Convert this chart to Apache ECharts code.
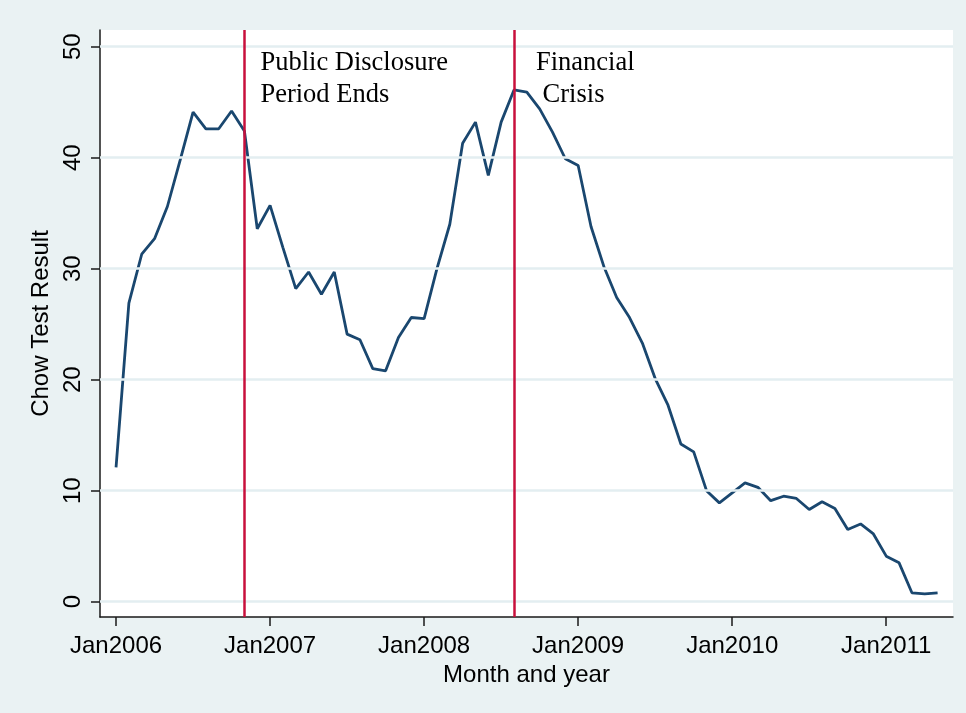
<!DOCTYPE html>
<html><head><meta charset="utf-8">
<script src="https://cdn.jsdelivr.net/npm/echarts@6/dist/echarts.min.js"></script>
<style>html,body{margin:0;padding:0;background:#fff}#c{width:966px;height:713px}</style>
</head><body><div id="c"></div>
<script>
// Monthly Chow test results, Jan2006 .. May2011 (month index 0 = Jan2006)
const startYear = 2006;
const chowValues = [12.1,26.9,31.3,32.7,35.6,39.8,44.1,42.6,42.6,44.2,42.4,33.6,
  35.7,31.9,28.2,29.7,27.7,29.7,24.1,23.6,21.0,20.8,23.8,25.6,
  25.5,30.0,34.0,41.3,43.2,38.4,43.2,46.1,45.9,44.4,42.3,39.9,
  39.3,33.8,30.2,27.4,25.6,23.3,20.1,17.7,14.2,13.5,10.0,8.9,
  9.8,10.7,10.3,9.1,9.5,9.3,8.3,9.0,8.4,6.5,7.0,6.1,
  4.1,3.5,0.8,0.7,0.8];
const xTickMonths = [0,12,24,36,48,60];
const xTickLabels = ['Jan2006','Jan2007','Jan2008','Jan2009','Jan2010','Jan2011'];
const yTicks = [0,10,20,30,40,50];
const eventMonths = [10,31];
const eventLabels = ['Public Disclosure\nPeriod Ends', 'Financial\n Crisis'];

const seriesData = chowValues.map((v,i)=>[i,v]);
const sans = '"Liberation Sans", Arial, Helvetica, sans-serif';
const serif = '"Liberation Serif", "Times New Roman", serif';

const chart = echarts.init(document.getElementById('c'), null, {renderer:'canvas'});
const option = {
  animation:false,
  backgroundColor:'#EAF2F3',
  grid:{left:100, top:30, right:13, bottom:96, show:true, backgroundColor:'#ffffff', borderWidth:0},
  xAxis:{
    type:'value', min:-1.25, max:65.2,
    axisLine:{onZero:false, lineStyle:{color:'#1a1a1a', width:1.5}},
    axisTick:{length:9, customValues:xTickMonths, lineStyle:{color:'#1a1a1a', width:1.5}},
    axisLabel:{customValues:xTickMonths, formatter:v=>xTickLabels[xTickMonths.indexOf(v)],
      fontSize:24, color:'#000', margin:17, fontFamily:sans},
    splitLine:{show:false},
    name:'Month and year', nameLocation:'middle', nameGap:41,
    nameTextStyle:{fontSize:24, color:'#000', fontFamily:sans}
  },
  yAxis:{
    type:'value', min:-1.38, max:51.5,
    axisLine:{show:true, onZero:false, lineStyle:{color:'#1a1a1a', width:1.5}},
    axisTick:{show:true, length:9, customValues:yTicks, lineStyle:{color:'#1a1a1a', width:1.5}},
    axisLabel:{customValues:yTicks, rotate:90, fontSize:24, color:'#000', margin:15, fontFamily:sans},
    splitLine:{show:false},
    name:'Chow Test Result', nameLocation:'middle', nameGap:40, nameRotate:90,
    nameTextStyle:{fontSize:24, color:'#000', fontFamily:sans}
  },
  series:[
    {
      type:'line', data:[], z:1, silent:true,
      markLine:{silent:true, symbol:'none', label:{show:false},
        lineStyle:{color:'#e3eef1', width:2.5, type:'solid'},
        data:yTicks.map(t=>({yAxis:t}))}
    },
    {
      type:'line', data:seriesData, z:3, symbol:'none', showSymbol:false,
      lineStyle:{color:'#1a476f', width:2.8}, itemStyle:{color:'#1a476f'},
      markLine:{silent:true, symbol:'none', label:{show:false},
        lineStyle:{color:'#c8103c', width:2.5, type:'solid'},
        data:eventMonths.map(m=>({xAxis:m}))}
    }
  ]
};
chart.setOption(option);

const offsets = [16, 22];
const graphics = eventMonths.map((m,k)=>{
  const p = chart.convertToPixel({gridIndex:0}, [m, 0]);
  return {
    type:'text', x:p[0]+offsets[k], y:47, z:10,
    style:{text:eventLabels[k], font:'26.5px ' + serif, fill:'#000', lineHeight:32, verticalAlign:'top', align:'left'}
  };
});
chart.setOption({graphic:graphics});
</script>
</body></html>
